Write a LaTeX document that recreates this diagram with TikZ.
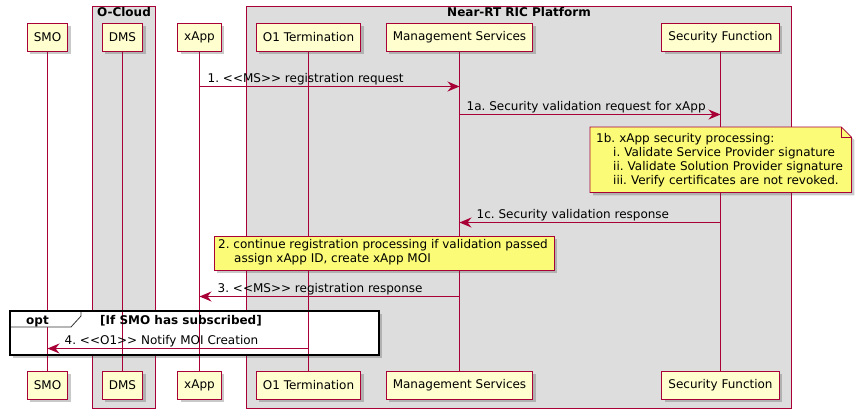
\documentclass[tikz,border=0pt]{standalone}
\usepackage{fontspec}
\setmainfont{DejaVu Sans}
\usetikzlibrary{arrows.meta,positioning,backgrounds,shadows,calc}
\definecolor{umlred}{HTML}{A80036}
\definecolor{umlpart}{HTML}{FEFECE}
\definecolor{umlgroup}{HTML}{DDDDDD}
\definecolor{umlnote}{HTML}{FBFB77}
\frenchspacing
\tikzset{
  ushadow/.style={drop shadow={shadow xshift=3pt,shadow yshift=-3pt,opacity=0.3,fill=black!70}},
  part/.style={draw=umlred,fill=umlpart,line width=0.9pt,ushadow,
               font=\fontsize{12}{14}\selectfont,inner xsep=6.5pt,minimum height=28pt},
  life/.style={fill=umlred,draw=none},
  msg/.style={-{Stealth[length=12pt,width=10pt,inset=4pt]},color=umlred,line width=1pt},
  mlabel/.style={font=\fontsize{12}{14}\selectfont,anchor=base west,inner sep=0pt},
  grp/.style={draw=umlred,fill=umlgroup,line width=0.8pt},
  gtitle/.style={font=\bfseries\fontsize{12}{14}\selectfont,anchor=north,inner sep=0pt},
  notebox/.style={font=\fontsize{12}{14}\selectfont,align=left,inner xsep=6pt,inner ysep=4pt},
  notefill/.style={fill=umlnote,draw=umlred,line width=0.8pt,ushadow},
  optframe/.style={draw=black,line width=2pt},
  opttab/.style={draw=black!80,fill=white,line width=0.8pt},
  optlabel/.style={font=\bfseries\fontsize{12}{14}\selectfont,anchor=base,inner sep=0pt},
}
\begin{document}
\begin{tikzpicture}[x=1pt,y=-1pt]
  \useasboundingbox (0,0) rectangle (856,413);
  % boxes
  \begin{scope}[on background layer]
    \draw[grp] (92.5,6.5) rectangle (155.5,408.5);
    \draw[grp] (246.5,6.5) rectangle (791.5,408.5);
    \fill[white,ushadow] (10,311) rectangle (379,355);
  \end{scope}
  \node[gtitle] (cloud) at (124,7) {O-Cloud};
  \node[gtitle] (ric) at (519,7) {Near-RT RIC Platform};
  % participants
  \foreach \pname/\px/\ptext in {smo/47.5/SMO,dms/122.5/DMS,xapp/199.5/xApp,
      otn/308.5/O1 Termination,mgs/459.5/Management Services,sec/720.5/Security Function}{
    \node[part] (\pname-top) at (\px,37) {\ptext};
    \node[part] (\pname-bot) at (\px,385) {\ptext};
  }
  % lifelines
  \begin{scope}[on background layer]
    \foreach \pname in {smo,dms,xapp,otn,mgs,sec}
      \path[life] ([xshift=-0.6pt]\pname-top.center) rectangle ([xshift=0.6pt]\pname-bot.center);
  \end{scope}
  % message rows
  \coordinate (r1) at (0,86.5);
  \coordinate (r1a) at (0,114.5);
  \coordinate (r1c) at (0,222.5);
  \coordinate (r3) at (0,296.5);
  \coordinate (r4) at (0,348.5);
  % notes
  \node[notebox,anchor=north west,text width=249pt,minimum height=65pt] (note1b) at (590,127)
    {1b. xApp security processing:\\
     \hspace*{17pt}i. Validate Service Provider signature\\
     \hspace*{17pt}ii. Validate Solution Provider signature\\
     \hspace*{17pt}iii. Verify certificates are not revoked.};
  \begin{scope}[on background layer]
    \path[notefill] (note1b.north west) -- ([xshift=-10pt]note1b.north east)
      -- ([yshift=-10pt]note1b.north east) -- (note1b.south east)
      -- (note1b.south west) -- cycle;
  \end{scope}
  \draw[umlred,line width=0.8pt] ([xshift=-10pt]note1b.north east)
    -- ([xshift=-10pt,yshift=-10pt]note1b.north east) -- ([yshift=-10pt]note1b.north east);
  \path[notefill] (214,236) rectangle (554,270);
  \node[notebox,anchor=north west,inner xsep=4pt,inner ysep=3pt] (note2) at (214,236)
    {2. continue registration processing if validation passed\\
     \hspace*{16pt}assign xApp ID, create xApp MOI};
  % messages
  \draw[msg] (xapp-top |- r1) -- (mgs-top |- r1);
  \node[mlabel] (m1) at ([xshift=8pt,yshift=4.5pt]xapp-top |- r1) {1. <{}<MS>{}> registration request};
  \draw[msg] (mgs-top |- r1a) -- (sec-top |- r1a);
  \node[mlabel] (m1a) at ([xshift=7pt,yshift=4.5pt]mgs-top |- r1a) {1a. Security validation request for xApp};
  \draw[msg] (sec-top |- r1c) -- (mgs-top |- r1c);
  \node[mlabel] (m1c) at ([xshift=17pt,yshift=4.5pt]mgs-top |- r1c) {1c. Security validation response};
  \draw[msg] (mgs-top |- r3) -- (xapp-top |- r3);
  \node[mlabel] (m3) at ([xshift=18pt,yshift=4.5pt]xapp-top |- r3) {3. <{}<MS>{}> registration response};
  % opt fragment
  \draw[opttab] (10,311) -- (81,311) -- (81,316) -- (71,327) -- (10,327) -- cycle;
  \node[optlabel] (optkw) at (37.5,324) {opt};
  \node[optlabel] (guard) at (181,324) {[If SMO has subscribed]};
  \draw[msg] (otn-top |- r4) -- (smo-top |- r4);
  \node[mlabel] (m4) at ([xshift=17pt,yshift=4.5pt]smo-top |- r4) {4. <{}<O1>{}> Notify MOI Creation};
  \draw[optframe] (10,311) rectangle (379,355);
\end{tikzpicture}
\end{document}
